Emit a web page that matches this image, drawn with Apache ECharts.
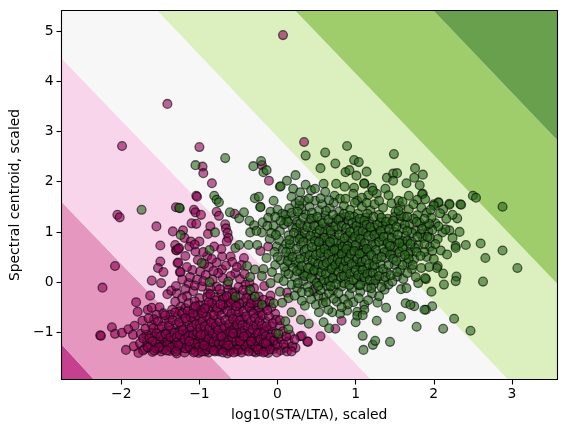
<!DOCTYPE html>
<html><head><meta charset="utf-8">
<script src="https://cdn.jsdelivr.net/npm/echarts@6/dist/echarts.min.js"></script>
<style>html,body{margin:0;padding:0;background:#fff}#c{width:566px;height:433px}</style>
</head><body><div id="c"></div>
<script>
const xMin=-2.765,xMax=3.577,yMin=-1.94,yMax=5.41;
const xTicks=[-2,-1,0,1,2,3];
const yTicks=[-1,0,1,2,3,4,5];
const xName='log10(STA/LTA), scaled';
const yName='Spectral centroid, scaled';
const bandColors=['#c5408f','#e597c0','#f8d5ea','#f7f7f7','#dcf0bf','#9fcd6c','#69a04d'];
const bands=[
 [[xMin,yMin],[xMin,-1.24],[-2.35,yMin]],
 [[xMin,-1.24],[xMin,1.60],[-0.575,yMin],[-2.35,yMin]],
 [[xMin,1.60],[xMin,4.46],[1.198,yMin],[-0.575,yMin]],
 [[xMin,4.46],[xMin,yMax],[-1.54,yMax],[2.95,yMin],[1.198,yMin]],
 [[-1.54,yMax],[0.226,yMax],[xMax,-0.03],[xMax,yMin],[2.95,yMin]],
 [[0.226,yMax],[1.995,yMax],[xMax,2.83],[xMax,-0.03]],
 [[1.995,yMax],[xMax,yMax],[xMax,2.83]]
];
const pinkSparse=[[0.07,4.92],[-1.41,3.55],[-1.99,2.71],[-1.0,2.69],[0.34,2.79],[-0.96,2.30],[-0.95,2.17],[-0.84,1.97],[-1.04,1.72],[-1.03,1.70],[-0.2,2.33],[-0.11,2.02],
[-2.05,1.34],[-2.02,1.29],[-1.30,1.49],[-1.55,1.11],[-1.34,1.01],[-1.50,0.73],[-1.31,0.74],[-1.30,0.64],[-1.29,0.63],[-1.26,0.68],[-1.50,0.41],[-1.28,0.38],[-1.53,0.28],[-1.46,0.20],[-1.25,0.20],[-2.08,0.32],[-1.61,0.03],[-1.49,-0.02],[-2.24,-0.11],[-1.63,-0.27],[-1.81,-0.40],[-1.41,-0.24],[-1.36,-0.17],[-1.29,-0.22],
[-1.07,1.44],[-1.05,1.39],[-0.98,1.34],[-0.78,1.40],[-0.75,1.32],[-0.55,1.36],[-1.10,1.17],[-1.04,1.16],[-0.67,1.15],[-0.66,1.07],[-0.86,1.11],[-0.89,0.96],[-1.21,1.03],[-0.64,0.98],[-0.63,0.88],[-0.65,0.81],[-1.19,0.88],[-1.11,0.81],[-1.0,0.81],[-1.13,0.71],[-0.81,0.71],[-1.27,0.66],[-1.05,0.61],[-0.90,0.52],[-0.71,0.51],[-0.60,0.51],[-0.43,0.48],[-0.12,0.71],[-0.22,0.62],[-1.27,0.39],[-0.78,0.39],[-0.58,0.40],[-0.46,0.34],[-1.24,0.20],[-1.09,0.24],[-0.99,0.21],[-0.88,0.30],[-0.71,0.25],[-0.54,0.18],[-1.14,-0.02],[-0.97,-0.09],[-0.78,-0.09],[-0.63,-0.15],[-0.41,-0.05],[-0.24,-0.29],[-0.09,-0.27],[0.12,-0.21],[-0.03,-0.63],[0.03,-0.88],[0.29,-1.08],[0.23,-1.31],[0.14,-1.18],[0.10,-1.31],[0.82,-0.77],[0.74,-0.93],[0.55,-1.08],[0.38,-1.18],[0.39,-1.19],[0.31,-1.07],[0.47,-0.19],
[-1.12,0.10],[-1.03,0.05],[-0.92,0.14],[-0.83,0.05],[-0.70,0.08],[-0.60,0.12],[-0.48,0.06],[-0.36,-0.02],[-1.18,-0.14],[-1.08,-0.18],[-0.89,-0.22],[-0.72,-0.24],[-0.55,-0.20],[-0.47,-0.28],[-0.30,-0.12],[-0.17,-0.08],
[-1.02,0.44],[-0.94,0.36],[-0.84,0.46],[-0.66,0.33],[-0.52,0.30],[-1.16,0.30],[-1.06,-0.07],[-0.95,0.02],[-0.76,0.18],[-0.64,-0.05],[-0.50,-0.10],[-0.42,0.16],[-1.22,0.05],[-1.30,-0.08],[-0.86,-0.12],[-0.68,-0.32],[-0.56,-0.36],[-0.38,-0.24],[-0.82,0.22],[-0.95,0.60],[-1.18,0.52],[-1.06,0.75],[-0.72,0.66],[-1.16,-0.28],[-1.00,-0.32],[-0.80,-0.30]];
const pinkDense=[[-1.79,-0.59],[-1.66,-0.55],[-1.61,-0.51],[-1.51,-0.50],[-1.73,-0.77],[-1.83,-0.87],[-2.12,-0.90],[-2.08,-1.03],[-2.27,-1.06],[-2.26,-1.07],[-1.99,-1.01],[-1.91,-0.94],[-1.85,-1.05],[-1.75,-1.03],[-1.94,-1.35],[-1.78,-1.41],[-1.84,-1.28],[-1.61,-0.85],[-1.55,-0.65],[-1.39,-0.75],[-1.46,-0.62],[-1.35,-0.55],[-1.24,-0.49],[-1.22,-0.32],[-1.31,-0.39],
[-1.76,-1.22],[-1.70,-1.33],[-1.67,-1.18],[-1.63,-1.27],[-1.60,-1.39],[-1.58,-1.10],[-1.54,-1.33],[-1.51,-1.20],[-1.49,-1.38],[-1.47,-1.05],[-1.44,-1.28],[-1.41,-0.96],[-1.40,-1.16],[-1.38,-1.37],[-1.35,-1.07],[-1.33,-1.26],[-1.30,-0.85],[-1.29,-1.42],[-1.27,-0.99],[-1.26,-1.17],[-1.24,-1.31],[-1.21,-0.73],[-1.20,-1.06],[-1.19,-1.40],[-1.17,-0.91],[-1.15,-1.24],[-1.13,-0.63],[-1.12,-1.13],[-1.10,-1.35],[-1.09,-0.80],[-1.07,-1.00],[-1.05,-1.28],[-1.03,-0.54],[-1.02,-0.90],[-1.01,-1.41],[-0.99,-1.14],[-0.98,-0.72],[-0.96,-1.33],[-0.94,-0.97],[-0.92,-0.45],[-0.91,-1.22],[-0.90,-0.83],[-0.88,-1.40],[-0.86,-1.07],[-0.85,-0.63],[-0.83,-1.30],[-0.81,-0.92],[-0.80,-0.36],[-0.79,-1.17],[-0.77,-0.74],[-0.75,-1.38],[-0.74,-1.03],[-0.72,-0.54],[-0.71,-1.27],[-0.69,-0.86],[-0.67,-1.12],[-0.66,-0.44],[-0.64,-1.42],[-0.62,-0.97],[-0.61,-0.68],[-0.59,-1.32],[-0.57,-1.18],[-0.56,-0.80],[-0.54,-0.56],[-0.52,-1.38],[-0.51,-1.05],[-0.49,-0.91],[-0.47,-1.25],[-0.46,-0.69],[-0.44,-0.40],[-0.42,-1.13],[-0.40,-1.36],[-0.39,-0.75],[-0.37,-0.98],[-0.35,-1.31],[-0.34,-0.58],[-0.32,-1.20],[-0.30,-0.85],[-0.28,-1.40],[-0.27,-1.07],[-0.25,-0.67],[-0.24,-1.25],[-0.22,-0.92],[-0.20,-1.34],[-0.18,-1.12],[-0.16,-0.48],[-0.15,-0.78],[-0.12,-1.41],[-0.12,-0.97],[-0.10,-1.22],[-0.07,-1.01],[-0.05,-1.33],[-0.03,-1.27],[-0.02,-0.75],[0.01,-1.12],[0.04,-1.36],[0.07,-0.98],[0.16,-1.05],
[-1.62,-1.02],[-1.52,-0.93],[-1.45,-0.78],[-1.58,-0.74],[-1.42,-1.18],[-1.37,-0.65],[-1.28,-0.68],[-1.25,-0.58],[-1.18,-0.52],[-1.14,-0.42],[-1.06,-0.38],[-1.00,-0.46],[-0.94,-0.60],[-0.90,-0.30],[-0.83,-0.50],[-0.76,-0.58],[-0.70,-0.34],[-0.62,-0.48],[-0.58,-0.35],[-0.52,-0.72],[-0.48,-0.50],[-0.38,-0.48],[-0.33,-0.33],[-0.28,-0.52],[-0.22,-0.60],[-0.18,-0.35],
[-1.68,-1.05],[-1.56,-1.22],[-1.46,-1.14],[-1.34,-1.34],[-1.32,-1.13],[-1.23,-0.88],[-1.16,-1.03],[-1.14,-1.30],[-1.08,-1.18],[-1.06,-0.70],[-1.00,-0.84],[-0.97,-1.25],[-0.95,-1.06],[-0.89,-1.30],[-0.87,-0.75],[-0.84,-1.12],[-0.80,-1.00],[-0.78,-1.32],[-0.73,-1.18],[-0.70,-0.95],[-0.68,-1.36],[-0.64,-1.05],[-0.60,-1.25],[-0.58,-0.90],[-0.55,-1.12],[-0.50,-1.30],[-0.45,-1.02],[-0.41,-0.88],[-0.38,-1.24],[-0.33,-1.10],[-0.31,-1.38],[-0.26,-0.95],[-0.23,-1.38],[-0.19,-1.03],[-0.14,-1.30],[-0.08,-0.88],[-0.06,-1.18],[-0.01,-1.40],[-0.92,-1.12],[-0.76,-1.28],[-0.53,-1.00],[-0.36,-1.15],[-1.12,-0.97],[-1.04,-1.10],[-0.93,-1.38],[-0.82,-0.82],[-0.66,-1.20],[-0.46,-1.35],[-0.29,-1.30],[-1.36,-0.95],[-1.48,-1.28],[-1.30,-1.20],[-1.22,-1.10],[-1.10,-1.24],[-1.01,-1.20],[-0.87,-1.24]];
const pinkCore=[[-1.72,-1.12],[-1.69,-0.93],[-1.65,-0.72],[-1.64,-1.12],[-1.59,-0.92],[-1.57,-1.31],[-1.55,-1.02],[-1.53,-0.78],[-1.50,-1.08],[-1.48,-0.88],[-1.46,-1.34],[-1.44,-0.66],[-1.43,-1.04],[-1.41,-1.25],[-1.39,-0.87],[-1.37,-1.10],[-1.36,-1.30],[-1.34,-0.76],[-1.32,-1.02],[-1.31,-0.60],[-1.29,-1.10],[-1.28,-1.34],[-1.26,-0.80],[-1.25,-1.05],[-1.23,-1.22],[-1.22,-0.62],[-1.21,-0.96],[-1.19,-1.14],[-1.18,-1.32],[-1.16,-0.78],[-1.15,-0.58],[-1.14,-1.08],[-1.12,-1.30],[-1.11,-0.70],[-1.10,-0.90],[-1.08,-1.05],[-1.07,-0.50],[-1.06,-1.22],[-1.05,-1.38],[-1.04,-0.84],[-1.03,-1.00],[-1.02,-0.66],[-1.01,-1.30],[-1.00,-1.08],[-0.99,-0.92],[-0.98,-0.56],[-0.97,-1.38],[-0.96,-0.78],[-0.95,-1.16],[-0.93,-0.88],[-0.92,-1.04],[-0.91,-0.68],[-0.90,-1.34],[-0.89,-0.52],[-0.88,-1.14],[-0.87,-0.92],[-0.86,-1.30],[-0.85,-0.80],[-0.84,-0.42],[-0.83,-1.02],[-0.82,-1.20],[-0.81,-0.66],[-0.80,-1.38],[-0.79,-0.88],[-0.78,-1.08],[-0.77,-0.52],[-0.76,-0.96],[-0.75,-1.22],[-0.74,-0.78],[-0.73,-1.34],[-0.72,-0.66],[-0.71,-1.10],[-0.70,-0.46],[-0.69,-1.22],[-0.68,-0.90],[-0.67,-0.76],[-0.66,-1.30],[-0.65,-1.04],[-0.64,-0.58],[-0.63,-1.16],[-0.62,-0.84],[-0.61,-1.38],[-0.60,-0.98],[-0.59,-0.62],[-0.58,-1.10],[-0.57,-0.74],[-0.56,-1.28],[-0.55,-0.92],[-0.54,-0.42],[-0.53,-1.18],[-0.52,-0.84],[-0.51,-1.34],[-0.50,-0.60],[-0.49,-1.10],[-0.48,-0.76],[-0.47,-1.00],[-0.46,-1.40],[-0.45,-0.86],[-0.44,-1.18],[-0.43,-0.58],[-0.42,-0.96],[-0.41,-1.28],[-0.40,-0.68],[-0.39,-1.08],[-0.38,-0.88],[-0.37,-1.38],[-0.36,-0.50],[-0.35,-1.02],[-0.34,-0.78],[-0.33,-1.24],[-0.32,-0.94],[-0.31,-0.62],[-0.30,-1.12],[-0.29,-0.72],[-0.28,-1.28],[-0.27,-0.86],[-0.26,-1.18],[-0.25,-1.02],[-0.24,-0.50],[-0.23,-0.78],[-0.22,-1.14],[-0.21,-1.30],[-0.20,-0.86],[-0.19,-0.66],[-0.18,-1.22],[-0.17,-0.98],[-0.16,-1.38],[-0.15,-1.08],[-0.14,-0.88],[-0.13,-1.18],[-0.11,-0.68],[-0.10,-1.34],[-0.09,-1.10],[-0.08,-0.50],[-0.06,-0.82],[-0.04,-1.16],[-0.02,-1.02],[0.00,-1.24],[0.03,-0.76],[0.05,-1.14],[0.08,-1.24],[0.11,-1.08],[0.19,-1.28],[0.22,-1.14],[-1.60,-1.18],[-1.52,-1.30],[-1.42,-1.36],[-1.27,-1.26],[-1.13,-1.18],[-0.98,-1.05],[-0.94,-1.26],[-0.82,-1.36],[-0.72,-1.08],[-0.63,-1.26],[-0.57,-1.02],[-0.48,-1.18],[-0.43,-1.08],[-0.34,-1.18],[-0.25,-1.34],[-0.15,-1.22],[-1.08,-0.62],[-0.96,-0.62],[-0.88,-0.40],[-0.73,-0.44],[-0.60,-0.40],[-0.49,-0.42],[-0.40,-0.32],[-0.30,-0.42],[-0.13,-0.56],[-0.58,-0.22],[-0.44,-0.16],
[-1.18,-0.72],[-1.05,-0.48],[-0.93,-0.52],[-0.86,-0.24],[-0.74,-0.14],[-0.65,-0.28],[-0.53,-0.48],[-0.34,-0.42],[-0.26,-0.40],[-0.10,-0.38],[-1.30,-1.38],[-1.72,-1.36],[-1.66,-1.30],[-1.58,-1.36],[-1.07,-1.40],[-0.70,-1.40],[-0.56,-1.40],[-0.18,-1.40],[0.12,-1.38],[0.18,-1.38]];
const greenSparse=[[0.36,2.52],[-0.67,2.47],[-1.05,2.33],[-0.21,2.41],[-0.31,2.31],[-0.18,2.19],[-0.14,2.23],[0.12,2.02],[0.23,2.13],[0.03,1.90],[0.04,1.91],[0.36,1.94],[0.2,1.86],[0.29,1.79],[0.43,1.83],[-0.81,1.72],[-0.78,1.64],[-0.75,1.59],[-0.29,1.67],[-0.24,1.70],[-0.05,1.62],[-0.22,1.50],
[0.89,2.71],[0.61,2.58],[1.49,2.55],[0.74,2.36],[0.98,2.43],[1.04,2.39],[0.55,2.27],[0.87,2.19],[0.92,2.23],[1.14,2.20],[1.01,2.12],[1.76,2.27],[1.86,2.14],[1.75,2.08],[1.40,2.08],[1.48,2.16],[1.53,2.17],[1.48,2.02],[1.65,1.97],[1.82,1.93],[1.38,1.86],[1.86,1.76],[1.85,1.75],[1.42,1.73],[1.68,1.72],[1.79,1.64],[1.89,1.65],[2.06,1.59],[2.20,1.56],[2.0,1.55],[2.34,1.55],[2.35,1.54],[2.50,1.72],[2.54,1.68],[2.88,1.50],[0.59,1.96],[0.75,1.96],[0.86,1.90],[1.11,1.97],[1.11,1.96],[1.21,1.88],[0.98,1.88],[1.27,1.76],[1.16,1.73],[1.22,1.82],[0.48,1.86],[0.97,1.76],[0.73,1.72],[0.80,1.66],[1.02,1.62],[0.61,1.80],[0.35,1.62],[0.48,1.62],
[2.20,1.54],[2.06,1.58],[2.0,1.52],[2.30,1.27],[2.24,1.34],[2.16,1.26],[2.12,1.45],[2.08,1.37],[2.33,1.0],[2.20,1.03],[2.11,0.99],[2.15,1.05],[2.24,0.88],[2.05,0.86],[2.02,1.17],[2.06,1.11],[1.93,1.01],[1.98,1.04],[2.41,0.74],[2.60,0.77],[2.88,0.63],[2.66,0.48],[3.07,0.28],[2.28,0.72],[2.28,0.68],[2.09,0.63],[2.17,0.55],[1.95,0.70],[1.91,0.50],[2.05,0.32],[2.04,0.28],[1.94,0.30],[2.12,0.17],[2.29,0.11],[2.28,0.02],[2.63,0.01],[2.13,-0.05],[1.90,0.06],[1.97,-0.19],[1.98,-0.48],[1.90,-0.55],[2.26,-0.73],[2.12,-0.93],[2.47,-0.97],
[1.10,-1.35],[1.22,-1.25],[1.25,-1.17],[1.09,-1.07],[1.44,-1.19],[1.78,-0.89],[1.58,-0.69],[1.27,-0.77],[0.59,-0.80],[0.66,-0.92],[1.0,-0.80],[1.88,-0.55],[1.75,-0.48],[1.64,-0.42],[1.70,-0.45],[1.39,-0.51],[0.40,-0.83],[1.28,-0.41],[1.11,-0.45],[1.11,-0.55],[1.02,-0.59],[1.02,-0.67],[0.89,-0.57],[0.80,-0.63],[0.70,-0.60],[0.76,-0.39],[0.65,-0.55],[0.53,-0.60],[0.49,-0.45],[0.35,-0.47],[0.31,-0.37],[0.59,-0.30],[1.06,-0.19],[1.21,-0.23],[1.37,-0.15],[1.58,-0.14],[1.65,-0.12],[1.80,-0.02],[1.89,0.08],[1.77,0.10],[1.53,0.11],[1.36,0.03],[1.26,0.07],[1.42,-0.05],[1.06,0.31],[1.07,0.30],[0.92,-0.25],[0.82,-0.09],[0.57,-0.01],[0.46,0.21],[0.33,0.15],[0.70,0.08],
[-1.25,1.47],[-0.61,1.39],[-0.49,1.27],[-0.43,1.39],[-0.22,1.49],[-0.36,1.22],[-0.30,1.13],[-0.19,1.19],[-0.35,0.99],[-0.2,0.99],[-0.09,1.40],[0.0,1.44],[0.11,1.24],[0.23,1.57],[0.18,1.70],[0.31,1.44],[-0.80,0.99],[-0.87,0.64],[-0.54,0.68],[-0.49,0.74],[-0.37,0.74],[-0.26,0.74],[-0.01,0.71],[0.14,0.51],[-0.97,0.38],[-0.39,0.32],[-0.29,0.25],[-0.18,0.26],[-0.03,0.34],[-0.35,0.10],[-0.2,0.12],[0.10,0.21],[0.29,0.24],[-0.87,0.0],[-0.63,0.01],[-0.54,-0.29],[-0.09,-0.02],[0.03,-0.19],[0.14,-0.32],[0.06,-0.41],[-0.05,-0.42],[-0.2,-0.45],[-0.35,-0.15],[-0.29,-0.29],[0.18,-0.6],[0.30,-0.75],[0.14,-0.94],[0.01,-1.03],[0.10,-0.78],[-1.74,1.44],[-1.26,1.48],[-1.24,0.94]];
const greenDense=[[0.06,1.36],[0.15,1.47],[0.22,1.30],[0.28,1.52],[0.36,1.35],[0.41,1.50],[0.46,1.27],[0.53,1.43],[0.57,1.55],[0.61,1.33],[0.67,1.47],[0.72,1.58],[0.75,1.26],[0.79,1.41],[0.85,1.52],[0.88,1.30],[0.93,1.44],[0.99,1.58],[1.03,1.36],[1.08,1.50],[1.13,1.28],[1.19,1.43],[1.24,1.55],[1.30,1.34],[1.35,1.48],[1.41,1.26],[1.46,1.57],[1.51,1.40],[1.57,1.51],[1.62,1.30],[1.68,1.45],[1.74,1.55],[1.79,1.33],[1.84,1.48],[1.91,1.38],[1.97,1.28],
[-0.12,1.28],[-0.05,1.12],[0.03,1.02],[0.08,1.15],[0.14,0.93],[0.19,1.10],[0.25,1.20],[0.27,0.96],[0.32,1.08],[0.37,0.88],[0.40,1.18],[0.44,1.01],[0.49,0.90],[0.52,1.13],[0.56,1.23],[0.59,0.98],[0.63,0.84],[0.66,1.10],[0.70,1.19],[0.73,0.94],[0.77,1.05],[0.81,0.82],[0.84,1.16],[0.87,0.98],[0.91,1.22],[0.94,0.87],[0.97,1.07],[1.01,1.21],[1.04,0.94],[1.07,0.80],[1.10,1.12],[1.14,1.00],[1.17,1.22],[1.20,0.86],[1.24,1.09],[1.27,0.96],[1.31,1.19],[1.34,0.82],[1.38,1.05],[1.42,0.92],[1.45,1.16],[1.49,1.00],[1.53,0.84],[1.56,1.20],[1.60,1.06],[1.64,0.92],[1.69,1.16],[1.72,0.80],[1.77,1.02],[1.82,1.18],[1.86,0.88],[1.90,1.12],[1.95,0.88],
[-0.10,0.86],[-0.04,0.60],[0.02,0.84],[0.07,0.66],[0.11,0.76],[0.17,0.62],[0.21,0.82],[0.26,0.55],[0.30,0.74],[0.34,0.62],[0.38,0.44],[0.42,0.78],[0.46,0.58],[0.50,0.70],[0.54,0.46],[0.58,0.76],[0.61,0.60],[0.65,0.42],[0.68,0.72],[0.72,0.52],[0.76,0.36],[0.79,0.66],[0.83,0.46],[0.86,0.76],[0.89,0.56],[0.92,0.34],[0.96,0.70],[0.99,0.48],[1.03,0.62],[1.05,0.40],[1.09,0.74],[1.12,0.54],[1.15,0.28],[1.18,0.66],[1.22,0.42],[1.25,0.76],[1.28,0.56],[1.32,0.36],[1.35,0.68],[1.39,0.48],[1.43,0.76],[1.46,0.58],[1.50,0.34],[1.54,0.66],[1.58,0.50],[1.62,0.74],[1.66,0.38],[1.70,0.60],[1.75,0.46],[1.80,0.74],[1.84,0.28],[1.88,0.60],
[0.04,0.44],[0.09,0.30],[0.16,0.38],[0.22,0.10],[0.27,0.33],[0.33,0.02],[0.38,0.16],[0.42,0.32],[0.47,0.04],[0.51,0.24],[0.55,0.12],[0.60,0.30],[0.63,-0.08],[0.67,0.18],[0.71,-0.16],[0.74,0.22],[0.78,0.06],[0.81,0.27],[0.85,-0.02],[0.88,0.17],[0.91,0.05],[0.95,-0.12],[0.98,0.20],[1.01,0.06],[1.04,-0.06],[1.08,0.14],[1.12,0.02],[1.15,-0.10],[1.19,0.18],[1.23,-0.04],[1.29,0.22],[1.33,-0.10],[1.40,0.20],[1.47,0.01],[1.57,0.24],[1.61,0.06],[1.72,0.26],[0.46,-0.15],[0.52,-0.27],[0.38,-0.10],[0.25,-0.12],[0.18,-0.05],[0.66,-0.22],[0.72,-0.33],[0.85,-0.34],[0.97,-0.40],[1.16,-0.36],[1.30,-0.28],[0.43,-0.34],[0.58,-0.42],
[0.10,1.34],[0.24,1.08],[0.44,1.38],[0.62,1.05],[0.80,1.28],[0.98,1.30],[1.15,1.36],[0.30,0.90],[0.55,0.85],[0.75,0.78],[0.90,0.92],[1.08,0.92],[1.30,0.90],[1.50,1.30],[1.10,0.66],[1.40,0.60],[0.35,0.50],[0.60,0.50],[0.85,0.62],[1.00,0.35],[0.70,0.30],[0.48,0.40],[0.23,0.40],[1.22,0.30],[0.95,0.82],[1.34,1.12],[1.60,0.82],[0.50,0.98],[0.16,0.75],[0.68,0.95],[0.78,0.56],[1.20,1.02]];
const greenCore=[[0.13,1.20],[0.18,1.38],[0.21,0.98],[0.26,1.40],[0.29,1.16],[0.33,1.28],[0.35,0.98],[0.38,1.10],[0.42,0.92],[0.43,1.26],[0.47,1.12],[0.48,0.82],[0.51,1.30],[0.54,1.04],[0.55,0.66],[0.58,1.17],[0.60,0.88],[0.62,1.42],[0.64,0.74],[0.65,1.24],[0.68,1.03],[0.69,0.62],[0.71,1.34],[0.72,0.84],[0.74,1.12],[0.76,0.66],[0.78,1.24],[0.79,0.94],[0.82,1.12],[0.83,0.70],[0.85,1.36],[0.86,0.88],[0.88,1.08],[0.90,0.72],[0.92,1.32],[0.93,1.00],[0.95,0.62],[0.96,1.18],[0.99,0.90],[1.00,0.74],[1.01,1.12],[1.03,1.02],[1.05,1.26],[1.06,0.86],[1.08,0.58],[1.09,1.02],[1.11,1.22],[1.12,0.78],[1.14,1.14],[1.16,0.92],[1.17,0.60],[1.19,1.10],[1.21,0.74],[1.23,1.30],[1.24,0.94],[1.26,0.64],[1.28,1.14],[1.30,0.80],[1.32,1.02],[1.33,1.28],[1.36,0.90],[1.37,0.60],[1.39,1.20],[1.41,0.78],[1.43,1.06],[1.44,0.54],[1.46,0.88],[1.48,1.22],[1.50,0.70],[1.52,1.10],[1.54,0.94],[1.56,0.60],[1.58,1.32],[1.60,0.70],[1.63,1.14],[1.66,0.82],[1.68,0.56],[1.72,0.98],[1.74,1.26],[1.76,0.68],[1.83,0.96],
[0.11,0.60],[0.13,0.42],[0.15,0.84],[0.19,0.50],[0.20,0.28],[0.24,0.66],[0.25,0.22],[0.28,0.86],[0.29,0.46],[0.31,0.32],[0.33,0.80],[0.35,0.12],[0.37,0.66],[0.39,0.28],[0.41,0.54],[0.43,0.08],[0.44,0.70],[0.45,0.44],[0.47,0.24],[0.49,0.54],[0.50,-0.02],[0.52,0.36],[0.53,0.80],[0.55,0.58],[0.56,0.20],[0.58,0.34],[0.59,0.04],[0.60,0.66],[0.62,0.16],[0.63,0.38],[0.65,0.56],[0.66,0.02],[0.67,0.80],[0.69,0.26],[0.70,0.44],[0.71,0.08],[0.73,0.64],[0.74,0.34],[0.75,-0.04],[0.77,0.46],[0.78,0.20],[0.80,0.40],[0.81,0.10],[0.82,0.56],[0.84,0.30],[0.85,0.12],[0.87,0.42],[0.88,0.66],[0.89,0.26],[0.91,0.46],[0.92,-0.06],[0.93,0.16],[0.94,0.56],[0.95,0.36],[0.97,0.04],[0.98,0.62],[1.00,0.24],[1.02,0.46],[1.03,0.14],[1.05,0.56],[1.06,-0.06],[1.08,0.40],[1.09,0.24],[1.11,0.10],[1.13,0.44],[1.14,0.66],[1.15,0.16],[1.17,0.36],[1.18,0.04],[1.20,0.54],[1.22,0.18],[1.24,0.34],[1.25,0.04],[1.27,0.46],[1.30,0.12],[1.33,0.50],[1.35,0.26],[1.38,0.10],[1.42,0.34],[1.45,0.14],[1.48,0.46],[1.53,0.20],[1.60,0.34],[1.66,0.18],[1.68,0.46],
[0.28,1.62],[0.40,1.66],[0.55,1.67],[0.66,1.63],[0.87,1.66],[1.08,1.68],[1.14,1.58],[1.30,1.62],[1.55,1.62],[1.60,1.60],[0.04,1.22],[-0.03,1.30],[-0.13,1.12],[-0.08,0.98],[-0.27,1.02],[-0.02,0.94],[0.00,0.50],[-0.14,0.48],[-0.07,0.20],[0.01,0.08],[0.08,0.02],[0.14,0.16],[0.26,-0.02],[0.31,-0.20],[0.22,-0.27],[0.40,-0.20],[0.55,-0.16],[0.78,-0.22],[0.90,-0.44],[1.04,-0.32],[1.20,-0.12],[1.09,-0.66],[0.82,-0.50],[0.62,-0.40],[0.52,-0.08],[0.68,-0.08],
[1.44,0.72],[1.52,0.42],[1.56,0.78],[1.63,0.54],[1.66,1.02],[1.70,0.76],[1.73,0.34],[1.78,0.60],[1.79,0.90],[1.83,0.52],[1.85,1.06],[1.88,0.76],[1.92,0.90],[1.94,1.16],[1.98,0.62],[2.00,0.46],[2.02,0.76],[1.55,1.42],[1.66,1.30],[1.78,1.20],[1.88,1.26],[1.96,1.44]];
const pinkPoints=pinkSparse.concat(pinkDense,pinkCore);
const greenPoints=greenSparse.concat(greenDense,greenCore);

const chart=echarts.init(document.getElementById('c'),null,{renderer:'canvas'});
const font={fontFamily:'DejaVu Sans',fontSize:13.9,color:'#000'};
const minus=v=>String(v).replace('-','\u2212');
const axisBase=(min,max)=>({type:'value',min,max,splitLine:{show:false},z:10});
function bandItem(params,api){
  const poly=bands[params.dataIndex].map(p=>api.coord(p));
  return {type:'polygon',shape:{points:poly},style:{fill:bandColors[params.dataIndex]}};
}
chart.setOption({
  animation:false,
  grid:{left:61.5,top:10.5,width:495.5,height:369,containLabel:false},
  xAxis:[
    Object.assign(axisBase(xMin,xMax),{position:'bottom',name:xName,nameLocation:'middle',nameGap:29,nameTextStyle:font,
      axisLine:{show:true,onZero:false,lineStyle:{color:'#000',width:1.1}},
      axisTick:{show:true,length:5,customValues:xTicks,lineStyle:{color:'#000',width:1.1}},
      axisLabel:Object.assign({show:true,customValues:xTicks,formatter:minus,margin:8},font)}),
    Object.assign(axisBase(xMin,xMax),{position:'top',axisLine:{show:true,onZero:false,lineStyle:{color:'#000',width:1.1}},axisTick:{show:false},axisLabel:{show:false}})
  ],
  yAxis:[
    Object.assign(axisBase(yMin,yMax),{position:'left',name:yName,nameLocation:'middle',nameGap:33,nameTextStyle:font,
      axisLine:{show:true,onZero:false,lineStyle:{color:'#000',width:1.1}},
      axisTick:{show:true,length:5,customValues:yTicks,lineStyle:{color:'#000',width:1.1}},
      axisLabel:Object.assign({show:true,customValues:yTicks,formatter:minus,margin:8},font)}),
    Object.assign(axisBase(yMin,yMax),{position:'right',axisLine:{show:true,onZero:false,lineStyle:{color:'#000',width:1.1}},axisTick:{show:false},axisLabel:{show:false}})
  ],
  series:[
    {type:'custom',renderItem:bandItem,data:bands.map((b,i)=>i),silent:true,z:1,clip:true},
    {type:'scatter',data:pinkPoints,symbolSize:8.8,z:3,itemStyle:{color:'#8e0152',opacity:0.6,borderColor:'#000',borderWidth:1.3}},
    {type:'scatter',data:greenPoints,symbolSize:8.8,z:3,itemStyle:{color:'#276419',opacity:0.6,borderColor:'#000',borderWidth:1.3}}
  ]
});
</script></body></html>
